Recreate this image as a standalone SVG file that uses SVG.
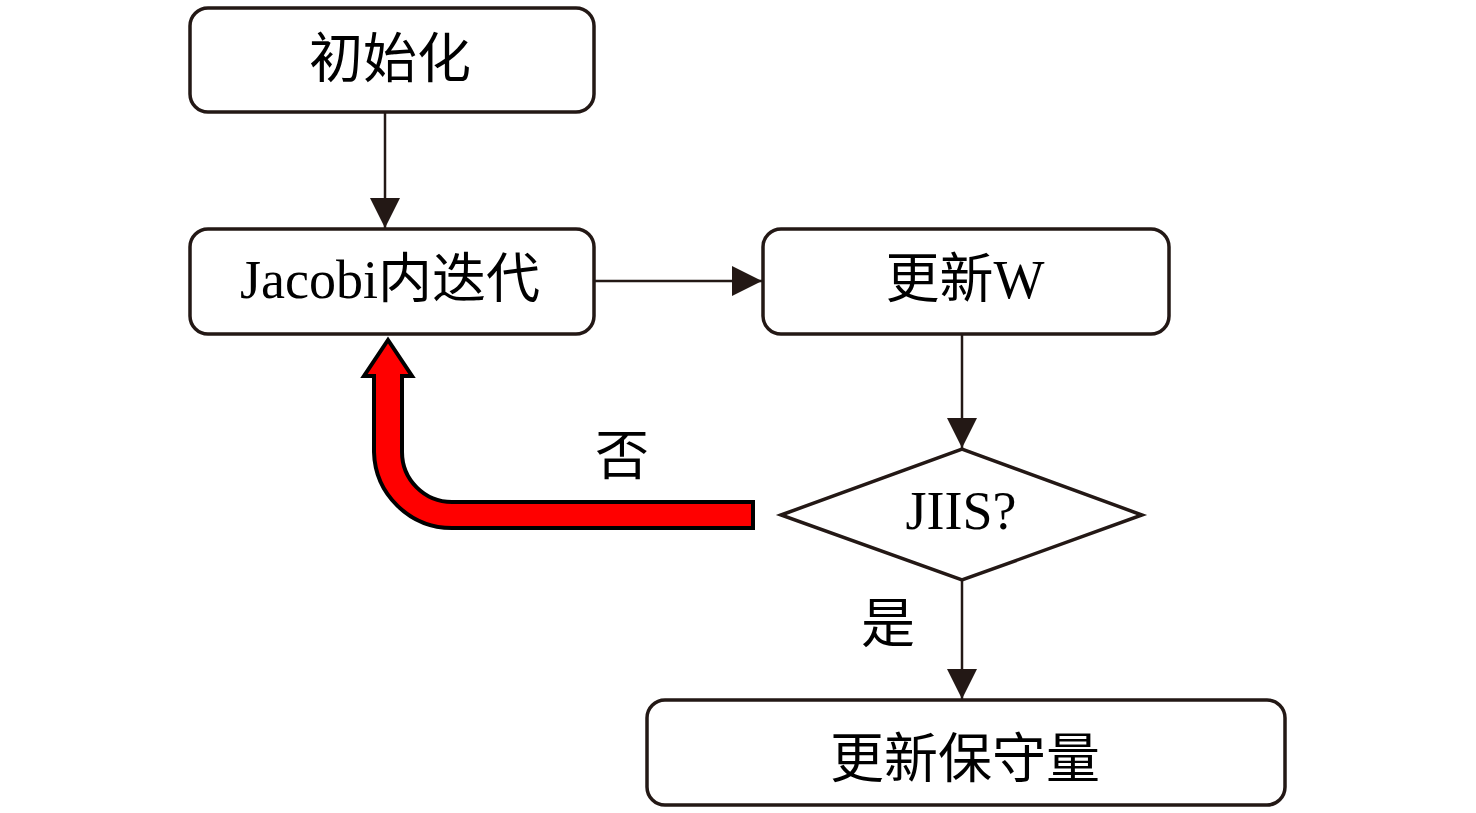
<svg xmlns="http://www.w3.org/2000/svg" width="1476" height="813" viewBox="0 0 1476 813">
<style>
.box{fill:#fff;stroke:#231815;stroke-width:3.5}
.t{font-family:"Liberation Serif","Noto Sans CJK SC",serif;font-size:54px;fill:#000;text-anchor:middle}
.ln{stroke:#231815;stroke-width:2.5;fill:none}
</style>
<defs>
<marker id="ah" markerUnits="userSpaceOnUse" markerWidth="32" markerHeight="32" refX="30" refY="15" orient="auto">
<path d="M0,0 L30,15 L0,30 Z" fill="#231815"/>
</marker>
</defs>
<rect width="1476" height="813" fill="#fff"/>
<g id="connectors">
<line class="ln" x1="385" y1="112" x2="385" y2="228" marker-end="url(#ah)"/>
<line class="ln" x1="594" y1="281" x2="762" y2="281" marker-end="url(#ah)"/>
<line class="ln" x1="962" y1="334" x2="962" y2="448" marker-end="url(#ah)"/>
<line class="ln" x1="962" y1="580" x2="962" y2="699" marker-end="url(#ah)"/>
<path id="no-arrow" d="M753 502 L452 502 A50 50 0 0 1 402 452 L402 376 L412 376 L388 340 L364 376 L374 376 L374 452 A78 78 0 0 0 452 528 L753 528 Z" fill="#f00" stroke="#000" stroke-width="4" stroke-linejoin="miter"/>
<text class="t" x="622" y="475" font-size="50">否</text>
<text class="t" x="888" y="643" font-size="50">是</text>
</g>
<g id="init"><rect class="box" x="190" y="8" width="404" height="104" rx="18"/><text class="t" x="390" y="78">初始化</text></g>
<g id="jacobi"><rect class="box" x="190" y="229" width="404" height="105" rx="18"/><text class="t" x="390" y="298">Jacobi内迭代</text></g>
<g id="updateW"><rect class="box" x="763" y="229" width="406" height="105" rx="18"/><text class="t" x="965" y="298">更新W</text></g>
<g id="jiis"><polygon class="box" points="781,515 962,449 1142,515 962,580"/><text class="t" x="961" y="529" font-size="55">JIIS?</text></g>
<g id="conserve"><rect class="box" x="647" y="700" width="638" height="105" rx="18"/><text class="t" x="965" y="778">更新保守量</text></g>
</svg>
